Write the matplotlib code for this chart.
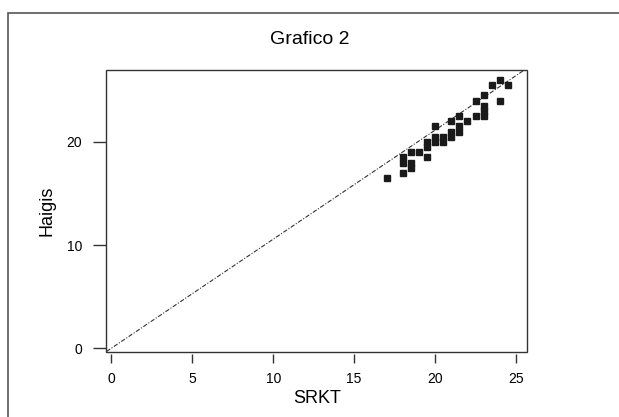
import matplotlib.pyplot as plt
from matplotlib.patches import Rectangle

plt.rcParams['font.family'] = ['Liberation Sans', 'DejaVu Sans']

# data
srkt = [17, 18, 18, 18, 18.5, 18.5, 18.5, 19, 19.5, 19.5, 19.5, 20, 20, 20,
        20.5, 20.5, 21, 21, 21, 21.5, 21.5, 21.5, 22, 22.5, 22.5,
        23, 23, 23, 23, 23.5, 24, 24, 24.5]
haigis = [16.5, 17, 18, 18.5, 17.5, 18, 19, 19, 18.5, 19.5, 20, 20, 20.5, 21.5,
          20, 20.5, 20.5, 21, 22, 21, 21.5, 22.5, 22, 22.5, 24,
          22.5, 23, 23.5, 24.5, 25.5, 26, 24, 25.5]
line_x = [-0.3, 25.5]
line_slope = 1.057
x_ticks = [0, 5, 10, 15, 20, 25]
y_ticks = [0, 10, 20]

fig = plt.figure(figsize=(6.19, 4.17), dpi=100)

# outer border (cut off at right and bottom)
fig.patches.append(Rectangle((8 / 619, -0.05), 1.1, 1 - 13 / 417 + 0.05,
                             transform=fig.transFigure, fill=False,
                             edgecolor='#555555', linewidth=1.2))

ax = fig.add_axes([0.172, 0.155, 0.68, 0.678])
ax.plot(line_x, [line_slope * v for v in line_x], color='#333333', lw=0.8,
        linestyle=(0, (4, 1.5, 1, 1.5)))
ax.plot(srkt, haigis, linestyle='none', marker='s', ms=5, color='#1a1a1a')

ax.set_xlim(-0.3, 25.7)
ax.set_ylim(-0.4, 27.0)
ax.set_xticks(x_ticks)
ax.set_yticks(y_ticks)

# detached axes, frame drawn separately
for s in ['top', 'right', 'left', 'bottom']:
    ax.spines[s].set_visible(False)
ax.spines['bottom'].set_position(('outward', 1.5))
ax.add_patch(Rectangle((0, 0), 1, 1, transform=ax.transAxes, fill=False,
                       edgecolor='#333333', linewidth=1.0, clip_on=False))
ax.tick_params(axis='x', direction='out', length=6.5, width=1, pad=6,
               labelsize=10, color='#333333')
ax.tick_params(axis='y', direction='out', length=9.5, width=1, pad=8,
               labelsize=10, color='#333333')

ax.set_xlabel('SRKT', fontsize=13, labelpad=3)
ax.set_ylabel('Haigis', fontsize=13, labelpad=8)
fig.text(0.5, 0.905, 'Grafico 2', ha='center', va='center', fontsize=14)

fig.savefig('out.png', dpi=100)
